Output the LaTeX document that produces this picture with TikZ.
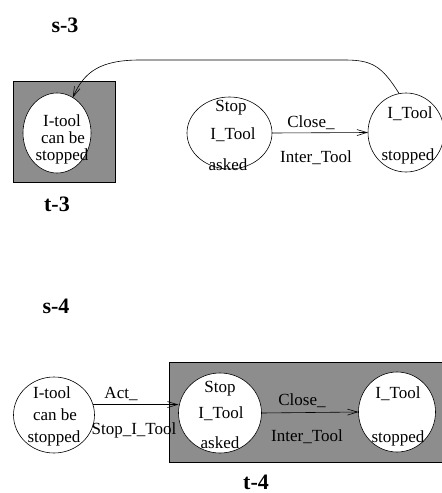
\documentclass[tikz,border=0pt]{standalone}
\usepackage{fontspec}
\setmainfont{Liberation Serif}
\usetikzlibrary{shapes.geometric,arrows.meta}
\definecolor{boxgray}{RGB}{141,141,141}
\begin{document}
\begin{tikzpicture}[x=1pt,y=-1pt,
  state/.style={ellipse, draw, fill=white, inner sep=0pt, outer sep=0pt, line width=0.6pt},
  lbl/.style={font=\fontsize{17}{19}\selectfont, anchor=base, inner sep=0pt},
  head/.style={font=\fontsize{22}{24}\selectfont\bfseries, anchor=base, inner sep=0pt},
  arr/.style={-{Straight Barb[length=10pt,width=6pt,line width=0.6pt]}, line width=0.6pt},
  graybox/.style={draw, fill=boxgray, line width=0.6pt, inner sep=0pt, outer sep=0pt}]
\useasboundingbox (0,0) rectangle (442,493);

% ---------- s-3 / t-3 ----------
\node[head] (s3) at (65,32) {s-3};
\node[graybox, minimum width=102pt, minimum height=101pt] (sq3) at (64,131.5) {};
\node[head] (t3) at (57,211) {t-3};

\node[state, minimum width=68pt, minimum height=80pt] (c1) at (57,133) {};
\node[lbl] (c1a) at (62,126) {I-tool};
\node[lbl] (c1b) at (63,143) {can be};
\node[lbl] (c1c) at (62,160) {stopped};

\node[state, minimum width=85pt, minimum height=72pt] (c2) at (229.5,133) {};
\node[lbl] (c2a) at (231,111) {Stop};
\node[lbl] (c2b) at (233,139) {I\_Tool};
\node[lbl] (c2c) at (228,170) {asked};

\node[state, minimum width=76pt, minimum height=79pt] (c3) at (406,132.5) {};
\node[lbl] (c3a) at (410,118) {I\_Tool};
\node[lbl] (c3b) at (408,160) {stopped};

\draw[arr] (c2.east) -- (c3.west);
\node[lbl] (l1a) at (311,127) {Close\_};
\node[lbl] (l1b) at (316,162) {Inter\_Tool};

\draw[arr] (c3.100) .. controls (382,66) and (372,60) .. (345,60)
  -- (140,60) .. controls (100,60) and (84,72) .. (c1.66);

% ---------- s-4 / t-4 ----------
\node[head] (s4) at (56,313) {s-4};
\node[graybox, minimum width=290pt, minimum height=100pt, anchor=north west] (sq4) at (169,362) {};
\node[head] (t4) at (256,489) {t-4};

\node[state, minimum width=81pt, minimum height=76pt] (c4) at (54,415) {};
\node[lbl] (c4a) at (52,398) {I-tool};
\node[lbl] (c4b) at (55,420) {can be};
\node[lbl] (c4c) at (54,442) {stopped};

\node[state, minimum width=83pt, minimum height=80pt] (c5) at (220,413) {};
\node[lbl] (c5a) at (220,392) {Stop};
\node[lbl] (c5b) at (221,418) {I\_Tool};
\node[lbl] (c5c) at (220,448) {asked};

\node[state, minimum width=77pt, minimum height=80pt] (c6) at (397,412) {};
\node[lbl] (c6a) at (398,398) {I\_Tool};
\node[lbl] (c6b) at (398,442) {stopped};

\draw[arr] (c4.15) -- (c4.15 -| c5.west);
\node[lbl] (l2a) at (121,398) {Act\_};
\node[lbl] (l2b) at (134,434) {Stop\_I\_Tool};

\draw[arr] (c5.east) -- (c6.west);
\node[lbl] (l3a) at (302,405) {Close\_};
\node[lbl] (l3b) at (307,441) {Inter\_Tool};
\end{tikzpicture}
\end{document}
